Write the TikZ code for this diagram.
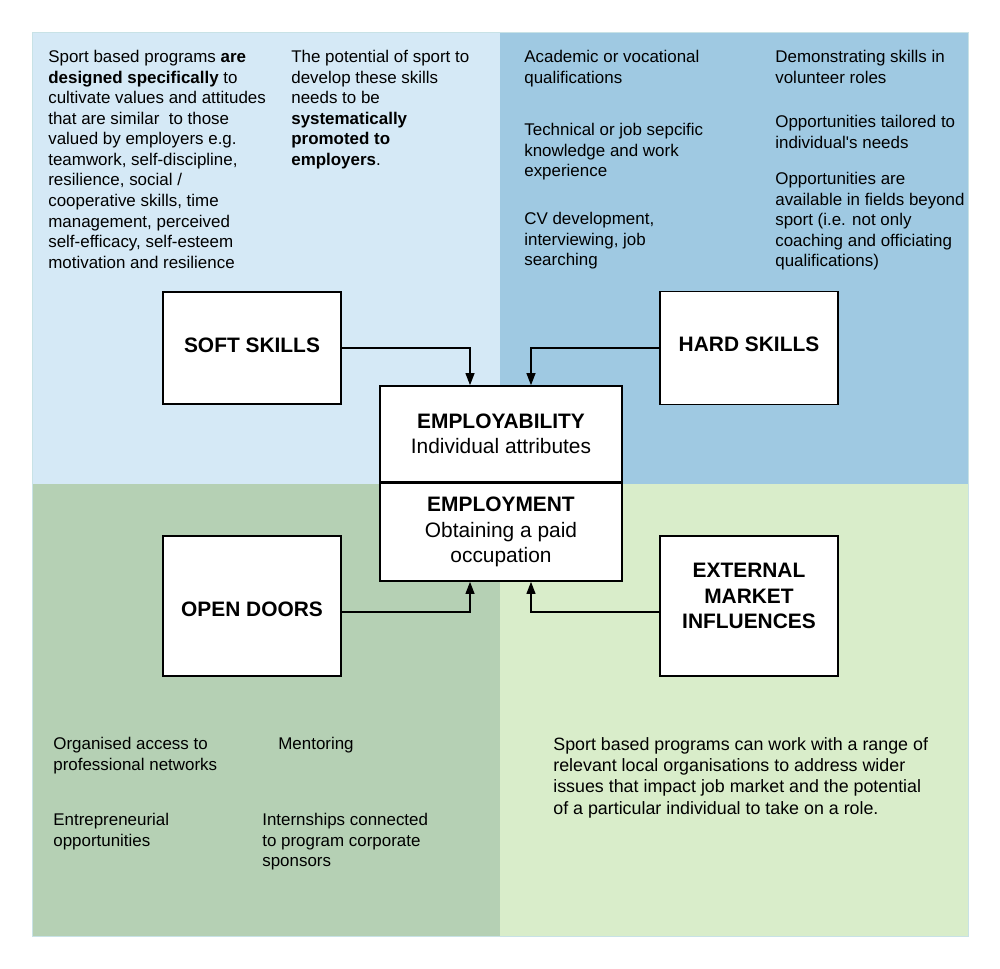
\documentclass[tikz,border=0pt]{standalone}
\usepackage{fontspec}
\setmainfont{Liberation Sans}
\usetikzlibrary{arrows.meta}
\definecolor{softbg}{HTML}{D5E9F6}
\definecolor{hardbg}{HTML}{9FC9E2}
\definecolor{doorbg}{HTML}{B5D0B4}
\definecolor{marketbg}{HTML}{D9EDCA}
\definecolor{framec}{HTML}{C8E2E6}
\newcommand{\skill}[6]{
\node[skillbox,minimum height=#4] (#1) at (#2,#3) {};
\node[skilltext] (#1t) at (#2,#5) {#6};}

\begin{document}
\begin{tikzpicture}[x=0.02cm,y=-0.02cm,
  skillbox/.style={draw,line width=1pt,fill=white,minimum width=3.56cm},
  skilltext/.style={align=center,font=\fontsize{11.9}{14.3}\selectfont\bfseries},
  corebox/.style={draw,line width=1pt,fill=white,minimum width=4.84cm,align=center,
    font=\fontsize{11.9}{14.5}\selectfont},
  note/.style={anchor=north west,align=left,inner sep=0,font=\fontsize{9.64}{11.7}\selectfont},
  feed/.style={line width=0.6pt,-{Triangle[length=0.24cm,width=0.18cm]}}]
\useasboundingbox (0,0) rectangle (1000,968);
\foreach \x/\y/\c in {32/32/softbg,500/32/hardbg,32/484/doorbg,500/484/marketbg}{
	\fill[\c] (\x,\y) rectangle ++(468,452);
}
\draw[framec,line width=0.5pt] (32,32) rectangle (968,936);

\node[note] (softa) at (48,50) {Sport based programs \textbf{are}\\\textbf{designed specifically} to\\cultivate values and attitudes\\that are similar~ to those\\valued by employers e.g.\\teamwork, self-discipline,\\resilience, social /\\cooperative skills, time\\management, perceived\\self-efficacy, self-esteem\\motivation and resilience};
\node[note] (softb) at (291,50) {The potential of sport to\\develop these skills\\needs to be\\\textbf{systematically}\\\textbf{promoted to}\\\textbf{employers}.};

\node[note] (harda) at (524,50) {Academic or vocational\\qualifications};
\node[note] (hardb) at (524,123) {Technical or job sepcific\\knowledge and work\\experience};
\node[note] (hardc) at (524,212) {CV development,\\interviewing, job\\searching};
\node[note] (hardd) at (775,50) {Demonstrating skills in\\volunteer roles};
\node[note] (harde) at (775,115) {Opportunities tailored to\\individual\textquotesingle s needs};
\node[note] (hardf) at (775,172) {Opportunities are\\available in fields beyond\\sport (i.e. not only\\coaching and officiating\\qualifications)};

\node[note] (doora) at (53,737) {Organised access to\\professional networks};
\node[note] (doorb) at (278,737) {Mentoring};
\node[note] (doorc) at (53,813) {Entrepreneurial\\opportunities};
\node[note] (doord) at (262,813) {Internships connected\\to program corporate\\sponsors};

\node[note,font=\fontsize{10.15}{12.1}\selectfont] (marketa) at (553,737) {Sport based programs can work with a range of\\relevant local organisations to address wider\\issues that impact job market and the potential\\of a particular individual to take on a role.};

\skill{soft}{252}{348}{2.24cm}{345}{SOFT SKILLS}
\skill{hard}{749}{348}{2.26cm}{344}{HARD SKILLS}
\skill{open}{252}{606}{2.8cm}{609}{OPEN DOORS}
\skill{ext}{749}{606}{2.8cm}{596}{EXTERNAL\\MARKET\\INFLUENCES}

\node[corebox,minimum height=1.92cm] (emp) at (501,434) {\textbf{EMPLOYABILITY}\\Individual attributes};
\node[corebox,minimum height=1.96cm] (job) at (501,532) {\textbf{EMPLOYMENT}\\Obtaining a paid\\occupation};

\draw[feed] (soft.east) -| ([xshift=-0.62cm]emp.north);
\draw[feed] (hard.west) -| ([xshift=0.6cm]emp.north);
\draw[feed] ([yshift=-0.12cm]open.east) -| ([xshift=-0.62cm]job.south);
\draw[feed] ([yshift=-0.12cm]ext.west) -| ([xshift=0.6cm]job.south);
\end{tikzpicture}
\end{document}
